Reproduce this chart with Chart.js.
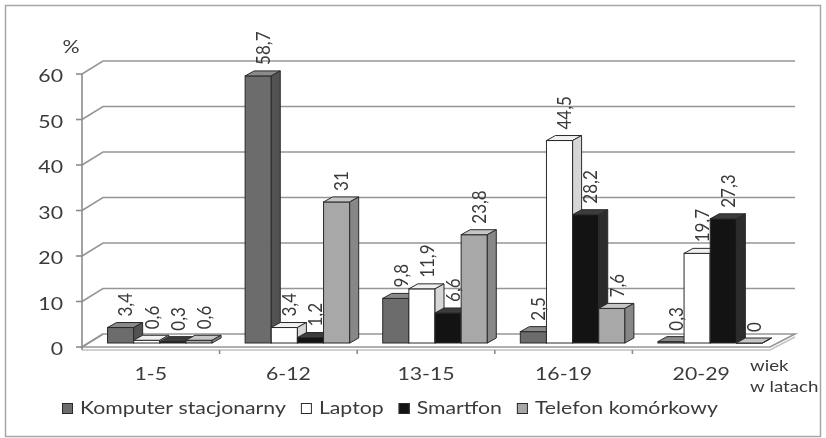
<!DOCTYPE html>
<html lang="pl">
<head>
<meta charset="UTF-8">
<title>Urządzenia wg wieku</title>
<script src="https://cdn.jsdelivr.net/npm/chart.js@4.4.1/dist/chart.umd.min.js"></script>
<style>
  html, body { margin: 0; padding: 0; background: #fff; }
</style>
</head>
<body>
<canvas id="chart" width="826" height="438"></canvas>
<script>
// data
const categories = ['1-5', '6-12', '13-15', '16-19', '20-29'];
const seriesNames = ['Komputer stacjonarny', 'Laptop', 'Smartfon', 'Telefon komórkowy'];
const komputer = [3.4, 58.7, 9.8, 2.5, 0.3];
const laptop   = [0.6, 3.4, 11.9, 44.5, 19.7];
const smartfon = [0.3, 1.2, 6.6, 28.2, 27.3];
const telefon  = [0.6, 31, 23.8, 7.6, 0];
const yTicks = [0, 10, 20, 30, 40, 50, 60];

const fronts = ['#6c6c6c', '#ffffff', '#131313', '#a8a8a8'];
const sides  = ['#525252', '#d6d6d6', '#2c2c2c', '#878787'];
const tops   = ['#8a8a8a', '#f0f0f0', '#3c3c3c', '#c6c6c6'];

const DX = 9, DY = -5;     // bar depth
const WX = 21, WY = -13;   // wall depth
const FS = 4;              // front axis sits a bit under the bar base
const SX = 1.25;           // the source text is drawn a bit wide
const FONT = 'Lato, "Open Sans", sans-serif';
const TXT = '#3a3a3a';

function fmt(v) { return String(v).replace('.', ','); }

// horizontal text, stretched like in the source picture
function wide(ctx, s, x, y, align, sx) {
  ctx.save();
  ctx.translate(x, y);
  ctx.scale(sx || SX, 1);
  ctx.textAlign = align;
  ctx.fillText(s, 0, 0);
  ctx.restore();
}

const threeD = {
  id: 'threeD',
  beforeDatasetsDraw(chart) {
    const ctx = chart.ctx, a = chart.chartArea;
    const y = chart.scales.y, x = chart.scales.x;
    const fl = a.left - DX, fr = a.right - DX;

    ctx.save();
    // outer frame
    ctx.strokeStyle = '#a6a6a6';
    ctx.lineWidth = 1.5;
    ctx.strokeRect(5.5, 5.5, 815, 431);

    // back wall grid
    ctx.strokeStyle = '#969696';
    ctx.lineWidth = 1.6;
    yTicks.forEach(v => {
      const fy = y.getPixelForValue(v) + FS;
      ctx.beginPath();
      ctx.moveTo(fl, fy);
      ctx.lineTo(fl + WX, fy + WY);
      if (v > 0) ctx.lineTo(fr + WX + 4, fy + WY);
      ctx.stroke();
    });

    // floor
    const f0 = y.getPixelForValue(0) + FS;
    ctx.beginPath();
    ctx.moveTo(fl, f0); ctx.lineTo(fr, f0);
    ctx.lineTo(fr + WX + 4, f0 + WY); ctx.lineTo(fl + WX, f0 + WY);
    ctx.closePath();
    ctx.stroke();
    ctx.beginPath();
    ctx.moveTo(fl, f0 + 3); ctx.lineTo(fr, f0 + 3);
    ctx.lineTo(fr + WX + 4, f0 + WY + 3);
    ctx.strokeStyle = '#c4c4c4';
    ctx.stroke();

    // front value axis
    ctx.strokeStyle = '#8c8c8c';
    ctx.beginPath();
    ctx.moveTo(fl, y.getPixelForValue(60) + FS);
    ctx.lineTo(fl, f0 + 3);
    ctx.stroke();
    ctx.font = '17px ' + FONT;
    ctx.fillStyle = TXT;
    ctx.textBaseline = 'middle';
    yTicks.forEach(v => {
      const fy = y.getPixelForValue(v) + FS;
      ctx.beginPath();
      ctx.moveTo(fl - 6, fy); ctx.lineTo(fl, fy);
      ctx.stroke();
      wide(ctx, String(v), fl - 19, fy + 3, 'right');
    });
    wide(ctx, '%', fl - 11, 48, 'center');

    // category ticks and labels
    const step = (a.right - a.left) / categories.length;
    for (let i = 1; i < categories.length; i++) {
      const tx = fl + step * i;
      ctx.beginPath();
      ctx.moveTo(tx, f0 + 3); ctx.lineTo(tx, f0 + 7);
      ctx.stroke();
    }
    categories.forEach((c, i) => {
      wide(ctx, c, x.getPixelForValue(i) - DX, 375, 'center');
    });
    ctx.font = '16px ' + FONT;
    wide(ctx, 'wiek', 750, 366, 'left', 1.17);
    wide(ctx, 'w latach', 750, 387, 'left', 1.17);

    // bars, category by category so faces overlap right
    ctx.lineWidth = 1;
    ctx.strokeStyle = '#2a2a2a';
    const metas = chart.data.datasets.map((d, i) => chart.getDatasetMeta(i));
    categories.forEach((c, j) => {
      metas.forEach((m, k) => {
        const b = m.data[j];
        const x0 = b.x - b.width / 2, x1 = b.x + b.width / 2;
        const t = b.y, bs = b.base;
        ctx.fillStyle = fronts[k];
        ctx.fillRect(x0, t, x1 - x0, bs - t);
        ctx.strokeRect(x0, t, x1 - x0, bs - t);
        ctx.fillStyle = tops[k];
        ctx.beginPath();
        ctx.moveTo(x0, t); ctx.lineTo(x1, t);
        ctx.lineTo(x1 + DX, t + DY); ctx.lineTo(x0 + DX, t + DY);
        ctx.closePath(); ctx.fill(); ctx.stroke();
        ctx.fillStyle = sides[k];
        ctx.beginPath();
        ctx.moveTo(x1, t); ctx.lineTo(x1 + DX, t + DY);
        ctx.lineTo(x1 + DX, bs + DY); ctx.lineTo(x1, bs);
        ctx.closePath(); ctx.fill(); ctx.stroke();
      });
    });

    // value labels, rotated
    ctx.font = '17px ' + FONT;
    ctx.fillStyle = TXT;
    ctx.textAlign = 'left';
    ctx.textBaseline = 'middle';
    metas.forEach((m, k) => {
      m.data.forEach((b, j) => {
        const v = chart.data.datasets[k].data[j];
        ctx.save();
        ctx.translate(b.x + DX / 2 + 1, b.y + DY - 6);
        ctx.rotate(-Math.PI / 2);
        ctx.scale(1, 1.15);
        ctx.fillText(fmt(v), 0, 0);
        ctx.restore();
      });
    });

    // legend
    ctx.font = '17px ' + FONT;
    ctx.textBaseline = 'middle';
    let lx = 62;
    const ly = 409;
    seriesNames.forEach((n, k) => {
      ctx.fillStyle = fronts[k];
      ctx.fillRect(lx, ly - 6, 11, 11);
      ctx.strokeStyle = '#2a2a2a';
      ctx.strokeRect(lx + 0.5, ly - 5.5, 10, 10);
      ctx.fillStyle = TXT;
      wide(ctx, n, lx + 18, ly, 'left');
      lx += 18 + ctx.measureText(n).width * SX + 15;
    });

    ctx.restore();
    return false;
  }
};

new Chart(document.getElementById('chart'), {
  type: 'bar',
  data: {
    labels: categories,
    datasets: [komputer, laptop, smartfon, telefon].map((d, k) => ({
      label: seriesNames[k],
      data: d,
      backgroundColor: fronts[k],
      borderColor: '#2a2a2a',
      categoryPercentage: 0.76,
      barPercentage: 1
    }))
  },
  options: {
    responsive: false,
    animation: false,
    layout: { padding: { left: 91, right: 47, top: 70, bottom: 95 } },
    scales: {
      x: { display: false },
      y: { display: false, min: 0, max: 60 }
    },
    plugins: { legend: { display: false }, tooltip: { enabled: false } }
  },
  plugins: [threeD]
});
</script>
</body>
</html>
